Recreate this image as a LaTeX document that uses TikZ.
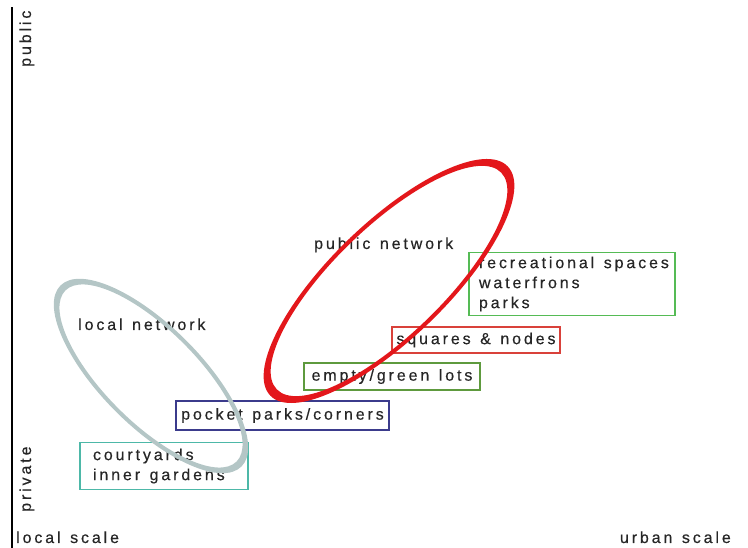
\documentclass[tikz,border=0pt]{standalone}
\usepackage{fontspec}
\setmainfont{Liberation Sans}[LetterSpace=18, WordSpace={1.3,0,0}, FakeBold=0.4]
\usepackage{xcolor}
\definecolor{ink}{HTML}{262626}
\definecolor{courtteal}{HTML}{4DB8A8}
\definecolor{pocketnavy}{HTML}{3B3B8C}
\definecolor{lotsolive}{HTML}{5E9A3E}
\definecolor{squarered}{HTML}{D9413A}
\definecolor{recgreen}{HTML}{55BB55}
\definecolor{pubred}{HTML}{E3171B}
\definecolor{locgrey}{HTML}{B4C6C6}
\newcommand{\lab}{\fontsize{16}{20}\selectfont}
\newcommand{\wsp}{\spaceskip=0pt\relax\xspaceskip=0pt\relax}

\begin{document}
\begin{tikzpicture}[x=1pt, y=1pt,
          netbox/.style={draw, line width=1.1pt, inner sep=0pt, font=\lab, text=ink, align=center},
          listbox/.style={netbox, align=left, minimum height=0pt},
          lbl/.style={font=\lab, text=ink, inner sep=0pt}]
        \useasboundingbox (0,0) rectangle (748,548);
        % axis
        \coordinate (ybot) at (12,0);
        \coordinate (ytop) at (12,541);
        \draw[line width=1.4pt] (ybot) -- (ytop);
        \node[lbl, rotate=90, anchor=base west] (pub) at (31,481) {public};
        \node[lbl, rotate=90, anchor=base west] (priv) at (31,36) {private};
        \node[lbl, anchor=base west] (lsc) at (16,5) {local~scale};
        \node[lbl, anchor=base east] (usc) at (731,5) {urban~scale};
        % boxes
        \node[listbox, draw=courtteal, text width=142pt, inner xsep=13pt, inner ysep=6pt] (court) at (164,82) {\wsp courtyards\\inner~gardens};
        \node[netbox, draw=pocketnavy, minimum width=213pt, minimum height=29pt] (pocket) at (282.5,132.5) {pocket~parks/corners};
        \node[netbox, draw=lotsolive, minimum width=176pt, minimum height=27pt] (lots) at (392,171.5) {empty/green~lots};
        \node[netbox, draw=squarered, minimum width=168pt, minimum height=26pt] (squares) at (476,208) {squares~\&~nodes};
        \node[listbox, draw=recgreen, text width=186pt, inner xsep=10pt, inner ysep=4pt] (rec) at (572,264) {\wsp recreational~spaces\\waterfrons\\parks};
        % networks
        \node[lbl, anchor=base west] (locnet) at (78,218) {local~network};
        \node[lbl, anchor=base west] (pubnet) at (314,299) {public~network};
        \fill[locgrey, even odd rule, rotate around={-45:(151,172)}]
          (151,172) ellipse [x radius=128, y radius=50]
          (151,172) ellipse [x radius=121, y radius=46];
        \fill[pubred, even odd rule, rotate around={44:(389,267)}]
          (389,267) ellipse [x radius=165, y radius=58]
          (389,267) ellipse [x radius=156, y radius=54];
      \end{tikzpicture}
\end{document}
